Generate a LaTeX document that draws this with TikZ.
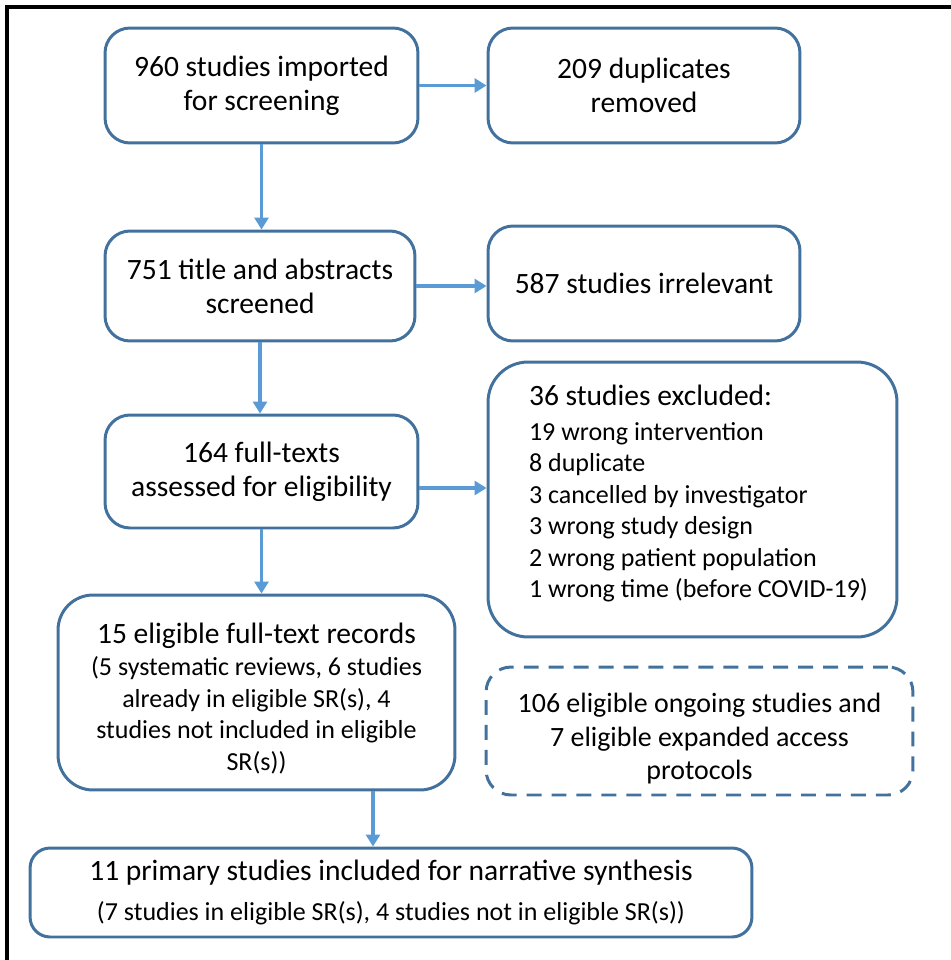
\documentclass[tikz,border=0pt]{standalone}
\usepackage{fontspec}
\setmainfont{Carlito}
\usetikzlibrary{arrows.meta}
\usetikzlibrary{shapes}

\definecolor{boxblue}{RGB}{65,113,156}
\definecolor{arrowblue}{RGB}{91,155,213}
\newcommand{\bigtext}{\fontsize{16.8}{19.4}\selectfont}
\newcommand{\midtext}{\fontsize{15.9}{19}\selectfont}
\newcommand{\smalltext}{\fontsize{14.8}{17.9}\selectfont}

\begin{document}
\begin{tikzpicture}[x = 0.02cm, y = -0.02cm]
	\tikzstyle{stageStyle} = [shape = rectangle, draw = boxblue, line width = 1.7pt, rounded corners = 0.5cm, align = center, inner sep = 0pt, font = \bigtext]
	\tikzstyle{reasonStyle} = [stageStyle, rounded corners = 0.8cm, align = flush left, text width = 6.54cm, font = \smalltext]
	\tikzstyle{ongoingStyle} = [stageStyle, dash pattern = on 8.5pt off 5.7pt, font = \midtext]
	\tikzstyle{arrowStyle} = [draw = arrowblue, line width = 1.8pt, -{Triangle[length = 0.24cm, width = 0.28cm]}]
	\useasboundingbox (0,0) rectangle (950,960);
	\draw[line width = 2.3pt, line cap = rect] (7,960) -- (7,7) -- (950,7);
	\node[stageStyle, minimum width = 6.26cm, minimum height = 2.30cm] (imported) at (261.5,85.5) {960 studies imported\\for screening};
	\node[stageStyle, minimum width = 6.24cm, minimum height = 2.30cm] (duplicates) at (644,85.5) {209 duplicates\\removed};
	\node[stageStyle, minimum width = 6.20cm, minimum height = 2.20cm] (screened) at (260,286) {751 title and abstracts\\screened};
	\node[stageStyle, minimum width = 6.24cm, minimum height = 2.30cm] (irrelevant) at (644,283.5) {587 studies irrelevant};
	\node[stageStyle, minimum width = 6.26cm, minimum height = 2.26cm] (fulltexts) at (261.5,471.5) {164 full-texts\\assessed for eligibility};
	\node[reasonStyle, minimum width = 8.18cm, minimum height = 5.50cm] (excluded) at (692.5,499.5) {{\bigtext 36 studies excluded:}\\[2pt]19 wrong intervention\\8 duplicate\\3 cancelled by investigator\\3 wrong study design\\2 wrong patient population\\\mbox{1 wrong time (before COVID-19)}\rule[-9.5pt]{0pt}{1pt}};
	\node[stageStyle, rounded corners = 0.7cm, minimum width = 7.94cm, minimum height = 3.90cm] (eligible) at (256.5,692.5) {\rule{0pt}{18.5pt}15 eligible full-text records\\[-1pt]\smalltext (5 systematic reviews, 6 studies\\[-1.5pt]\smalltext already in eligible SR(s), 4\\[-1.5pt]\smalltext studies not included in eligible\\[-1.5pt]\smalltext SR(s))};
	\node[ongoingStyle, minimum width = 8.54cm, minimum height = 2.56cm] (ongoing) at (699.5,731) {\rule{0pt}{20pt}106 eligible ongoing studies and\\7 eligible expanded access\\protocols};
	\node[stageStyle, rounded corners = 0.4cm, minimum width = 14.44cm, minimum height = 1.78cm] (included) at (391,892.5) {11 primary studies included for narrative synthesis\\[3pt]\smalltext (7 studies in eligible SR(s), 4 studies not in eligible SR(s))};
	\draw[arrowStyle] (imported.east) -- (duplicates.west);
	\draw[arrowStyle] (imported.south) -- (imported.south |- screened.north);
	\draw[arrowStyle] (screened.east) -- (screened.east -| irrelevant.west);
	\draw[arrowStyle] (screened.south) -- (screened.south |- fulltexts.north);
	\draw[arrowStyle] ([yshift = -0.33cm]fulltexts.east) -- ([yshift = -0.33cm]fulltexts.east -| excluded.west);
	\draw[arrowStyle] (fulltexts.south) -- (fulltexts.south |- eligible.north);
	\draw[arrowStyle] ([xshift = 2.33cm]eligible.south) -- ([xshift = 2.33cm]eligible.south |- included.north);
\end{tikzpicture}
\end{document}
